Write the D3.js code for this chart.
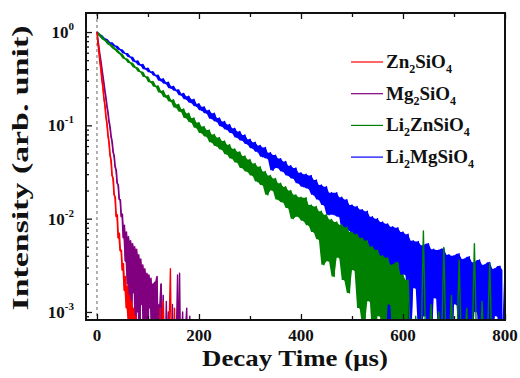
<!DOCTYPE html>
<html>
<head>
<meta charset="utf-8">
<script src="https://cdn.jsdelivr.net/npm/d3@7"></script>
<style>
  body { margin: 0; background: #fff; }
  svg { display: block; }
  text { font-family: "Liberation Serif", "Times New Roman", serif; font-weight: bold; fill: #111; }
</style>
</head>
<body>
<div id="chart"></div>
<script>
// legend labels, split into [text, isSubscript] parts
const seriesNames = [
  [['Zn', 0], ['2', 1], ['SiO', 0], ['4', 1]],
  [['Mg', 0], ['2', 1], ['SiO', 0], ['4', 1]],
  [['Li', 0], ['2', 1], ['ZnSiO', 0], ['4', 1]],
  [['Li', 0], ['2', 1], ['MgSiO', 0], ['4', 1]]
]
const seriesColors = ['#ff0000', '#800080', '#008000', '#0000ff']

// decay curves, [time (µs), intensity]
const zn2sio4 = [[0,1],[2,.78],[4,.64],[6,.49],[8,.405],[10,.31],[12,.258],[14,.195],[16,.164],[18,.124],[20,.104],
  [22,.078],[24,.066],[26,.048],[28,.042],[30,.029],[32,.027],[34,.018],[36,.017],[38,.0105],[40,.011],
  [42,.0062],[44,.007],[46,.0045],[48,.0046],[50,.0028],[52,.0033],[54,.0017],[56,.0024],[58,.0011],[60,.0019],
  [62,.0008],[64,.0015],[66,.0005],[68,.0013],[70,.0004],[72,.0011],[74,.0003],[76,.0009],[78,.0002],
  [90,.0003],[100,.0002],[110,.0003],[120,.0002],[124,.0011],[126,.0003],[130,.0013],[132,.0003],[136,.0002],
  [140,.0003],[144,.0029],[146,.0003],[150,.0002],[152,.0011],[154,.0003],[160,.0002]]

const mg2sio4 = [[0,1],[2,.83],[4,.69],[6,.57],[8,.485],[10,.40],[12,.335],[14,.28],[16,.232],[18,.196],[20,.16],
  [22,.137],[24,.11],[26,.096],[28,.076],[30,.067],[32,.052],[34,.047],[36,.036],[38,.033],[40,.024],
  [42,.023],[44,.016],[46,.016],[48,.0105],[50,.0112],[52,.0062],[54,.0085],[56,.0035],[58,.0072],[60,.002],
  [62,.0064],[64,.001],[66,.0058],[68,.0006],[70,.0054],[72,.0016],[74,.005],[76,.0004],[78,.0047],[80,.001],
  [82,.0041],[84,.0003],[86,.0037],[88,.0012],[90,.0032],[92,.0004],[94,.0029],[96,.0008],[98,.0026],[100,.0003],
  [102,.0025],[104,.0011],[106,.0023],[108,.0004],[110,.002],[112,.0003],[114,.0021],[116,.0006],[118,.0024],
  [120,.0003],[122,.0012],[124,.0004],[126,.002],[128,.0003],[130,.0015],[132,.0002],[134,.0004],[136,.0013],
  [138,.0003],[140,.001],[142,.0002],[146,.0003],[148,.0012],[150,.0003],[154,.0002],[158,.0025],[160,.0003],
  [162,.0026],[164,.0003],[168,.001],[170,.0003],[176,.0011],[178,.0002],[182,.0009],[184,.0002]]

const li2znsio4 = [[0,1],[5,.95],[10,.89],[15,.83],[20,.80],[25,.74],[30,.715],[35,.665],[40,.64],[45,.595],[50,.57],
  [55,.52],[60,.51],[65,.47],[70,.46],[75,.42],[80,.41],[85,.375],[90,.37],[95,.33],[100,.33],
  [105,.29],[110,.295],[115,.26],[120,.264],[125,.225],[130,.235],[135,.20],[140,.21],[145,.18],[150,.188],
  [155,.155],[160,.168],[165,.14],[170,.15],[175,.12],[180,.135],[185,.108],[190,.12],[195,.094],[200,.107],
  [205,.083],[210,.097],[215,.076],[220,.089],[225,.066],[230,.08],[235,.06],[240,.074],[245,.055],[250,.068],
  [255,.049],[260,.062],[265,.044],[270,.056],[275,.04],[280,.052],[285,.035],[290,.047],[295,.032],[300,.043],
  [305,.029],[310,.039],[315,.025],[320,.036],[325,.023],[330,.032],[335,.018],[340,.029],[345,.02],[350,.027],
  [355,.016],[360,.024],[365,.015],[370,.022],[375,.013],[380,.02],[385,.010],[390,.018],[395,.0105],[400,.017],
  [405,.0095],[410,.0168],[415,.0085],[420,.014],[425,.0072],[430,.0135],[435,.006],[440,.012],[445,.0032],[450,.011],
  [455,.0035],[460,.0098],[465,.0024],[470,.0092],[475,.0038],[480,.0086],[485,.0022],[490,.0081],[495,.0016],[500,.0072],
  [505,.0028],[510,.0068],[515,.0011],[520,.0062],[525,.0007],[530,.0058],[535,.0013],[540,.005],[545,.0005],[550,.0046],
  [555,.0009],[560,.004],[565,.0004],[570,.0038],[575,.0012],[580,.0032],[585,.0004],[590,.0034],[595,.0006],[600,.0025],
  [605,.0003],[610,.0022],[615,.0004],[620,.0003],[625,.0009],[630,.0002],[635,.0003],[640,.0074],[645,.0003],
  [650,.0004],[655,.0012],[660,.0002],[665,.0003],[670,.001],[675,.0003],[680,.0049],[685,.0003],[690,.0004],
  [695,.0015],[700,.0002],[705,.0003],[710,.0036],[715,.0003],[720,.0004],[725,.0011],[730,.0002],[735,.0003],
  [740,.0054],[745,.0003],[750,.0002],[755,.0013],[760,.0003],[765,.0004],[770,.0033],[775,.0003],[780,.0002]]

const li2mgsio4 = [[0,1],[5,.94],[10,.91],[15,.85],[20,.83],[25,.77],[30,.765],[35,.71],[40,.70],[45,.65],[50,.64],
  [55,.59],[60,.585],[65,.54],[70,.535],[75,.48],[80,.49],[85,.44],[90,.45],[95,.40],[100,.41],
  [105,.37],[110,.375],[115,.34],[120,.345],[125,.30],[130,.315],[135,.28],[140,.29],[145,.25],[150,.262],
  [155,.235],[160,.24],[165,.21],[170,.22],[175,.19],[180,.205],[185,.175],[190,.19],[195,.16],[200,.17],
  [205,.145],[210,.158],[215,.135],[220,.145],[225,.118],[230,.135],[235,.11],[240,.12],[245,.098],[250,.11],
  [255,.09],[260,.102],[265,.083],[270,.093],[275,.074],[280,.086],[285,.069],[290,.079],[295,.063],[300,.071],
  [305,.057],[310,.066],[315,.052],[320,.061],[325,.046],[330,.058],[335,.044],[340,.051],[345,.033],[350,.048],
  [355,.035],[360,.044],[365,.032],[370,.041],[375,.029],[380,.037],[385,.027],[390,.035],[395,.024],[400,.031],
  [405,.022],[410,.03],[415,.021],[420,.029],[425,.018],[430,.026],[435,.016],[440,.023],[445,.014],[450,.022],
  [455,.011],[460,.019],[465,.011],[470,.019],[475,.0105],[480,.017],[485,.007],[490,.016],[495,.0075],[500,.014],
  [505,.0065],[510,.0135],[515,.005],[520,.0125],[525,.0045],[530,.012],[535,.0032],[540,.0105],[545,.0025],[550,.01],
  [555,.0018],[560,.0092],[565,.0012],[570,.0088],[575,.0006],[580,.0082],[585,.0012],[590,.008],[595,.0005],[600,.0072],
  [605,.0025],[610,.0068],[615,.0004],[620,.0058],[625,.0018],[630,.0057],[635,.0005],[640,.0052],[645,.0009],[650,.0054],
  [655,.0003],[660,.0047],[665,.0014],[670,.0046],[675,.0004],[680,.0048],[685,.0007],[690,.0041],[695,.0002],[700,.004],
  [705,.0012],[710,.0042],[715,.0004],[720,.0037],[725,.0008],[730,.0039],[735,.0003],[740,.0034],[745,.001],[750,.0036],
  [755,.0004],[760,.0032],[765,.0006],[770,.0034],[775,.0003],[780,.0029],[785,.0009],[790,.0031],[795,.0004],[800,.0028]]

// where each curve stops being a dense noise band and turns into lone spikes (µs)
const denseUntil = [78, 130, 615, 800]

// draw order: blue under green, red on top
const drawOrder = [3, 2, 1, 0]
const seriesData = [zn2sio4, mg2sio4, li2znsio4, li2mgsio4]

const xMajorTicks = [0, 200, 400, 600, 800]
const xMinorTicks = [100, 300, 500, 700]
const yDecades = [1, 0.1, 0.01, 0.001]
const yExponents = ['0', '-1', '-2', '-3']

const width = 520
const height = 378
const margin = { top: 13, right: 15, bottom: 58, left: 86 }
const plotW = width - margin.left - margin.right
const plotH = height - margin.top - margin.bottom

const svg = d3.select('#chart').append('svg')
  .attr('width', width)
  .attr('height', height)

const x = d3.scaleLinear().domain([-21.5, 800]).range([0, plotW])
const y = d3.scaleLog().domain([8.2e-4, 1.6]).range([plotH, 0])

const g = svg.append('g').attr('transform', `translate(${margin.left},${margin.top})`)

g.append('clipPath').attr('id', 'plot-clip')
  .append('rect').attr('width', plotW).attr('height', plotH)

// dashed line at t = 0
g.append('line')
  .attr('x1', x(0)).attr('x2', x(0))
  .attr('y1', 0).attr('y2', plotH)
  .attr('stroke', '#666')
  .attr('stroke-width', 1)
  .attr('stroke-dasharray', '3,3')

const line = d3.line()
  .x(d => x(d[0]))
  .y(d => y(d[1]))

// noise band: span between each sample and the next one
const band = d3.area()
  .x(d => x(d[0]))
  .y0(d => y(d[1]))
  .y1(d => y(d[2]))

function bandRows(data, end) {
  return data.slice(0, -1)
    .map((d, j) => [d[0], Math.min(d[1], data[j + 1][1]), Math.max(d[1], data[j + 1][1])])
    .filter(d => d[0] < end)
}

const curves = g.append('g').attr('clip-path', 'url(#plot-clip)')
drawOrder.forEach(i => {
  curves.append('path')
    .datum(bandRows(seriesData[i], denseUntil[i]))
    .attr('fill', seriesColors[i])
    .attr('d', band)
  curves.append('path')
    .datum(seriesData[i])
    .attr('fill', 'none')
    .attr('stroke', seriesColors[i])
    .attr('stroke-width', 1.4)
    .attr('stroke-linejoin', 'round')
    .attr('d', line)
})

// axes: inward ticks
const yAll = y.ticks()
const yMinor = yAll.filter(v => !yDecades.some(d => Math.abs(v - d) < d * 1e-6))

function tickAxis(axis, values, size) {
  return axis.tickValues(values).tickSizeInner(-size).tickSizeOuter(0).tickFormat('')
}

g.append('g').call(tickAxis(d3.axisLeft(y), yDecades, 6))
g.append('g').call(tickAxis(d3.axisLeft(y), yMinor, 3))
g.append('g').attr('transform', `translate(0,${plotH})`).call(tickAxis(d3.axisBottom(x), xMajorTicks, 6))
g.append('g').attr('transform', `translate(0,${plotH})`).call(tickAxis(d3.axisBottom(x), xMinorTicks, 4))
g.append('g').call(tickAxis(d3.axisTop(x), xMajorTicks, 6))
g.append('g').call(tickAxis(d3.axisTop(x), xMinorTicks, 4))
g.selectAll('.domain').remove()
g.selectAll('.tick line').attr('stroke', '#111').attr('stroke-width', 1.3)

g.append('rect')
  .attr('width', plotW).attr('height', plotH)
  .attr('fill', 'none')
  .attr('stroke', '#111')
  .attr('stroke-width', 2)

// tick labels
g.append('g').selectAll('text')
  .data(xMajorTicks)
  .join('text')
  .attr('x', d => x(d))
  .attr('y', plotH + 21)
  .attr('text-anchor', 'middle')
  .attr('font-size', 17)
  .text(d => d)

const yLab = g.append('g').selectAll('text')
  .data(yDecades)
  .join('text')
  .attr('x', -12)
  .attr('y', d => y(d))
  .attr('dy', '0.35em')
  .attr('text-anchor', 'end')
  .attr('font-size', 17)
yLab.append('tspan').text('10')
yLab.append('tspan')
  .attr('font-size', 11)
  .attr('dy', -8)
  .text((d, i) => yExponents[i])

// axis titles
svg.append('text')
  .attr('x', 295)
  .attr('y', 366)
  .attr('text-anchor', 'middle')
  .attr('font-size', 23)
  .attr('textLength', 186)
  .attr('lengthAdjust', 'spacingAndGlyphs')
  .text('Decay Time (\u00b5s)')

svg.append('text')
  .attr('transform', `translate(28,168) rotate(-90)`)
  .attr('text-anchor', 'middle')
  .attr('font-size', 24)
  .attr('textLength', 285)
  .attr('lengthAdjust', 'spacingAndGlyphs')
  .text('Intensity (arb. unit)')

// legend
const legend = svg.append('g').attr('transform', 'translate(351,62)')
seriesNames.forEach((parts, i) => {
  const row = legend.append('g').attr('transform', `translate(0,${i * 31.7})`)
  row.append('line')
    .attr('x1', 0).attr('x2', 32)
    .attr('stroke', seriesColors[i])
    .attr('stroke-width', 1.2)
  const t = row.append('text').attr('x', 35).attr('y', 6).attr('font-size', 19)
  let shifted = false
  parts.forEach(([s, sub]) => {
    const ts = t.append('tspan').text(s)
    if (sub) {
      ts.attr('font-size', 12).attr('dy', shifted ? 0 : 5)
      shifted = true
    } else {
      ts.attr('dy', shifted ? -5 : 0)
      shifted = false
    }
  })
})
</script>
</body>
</html>
